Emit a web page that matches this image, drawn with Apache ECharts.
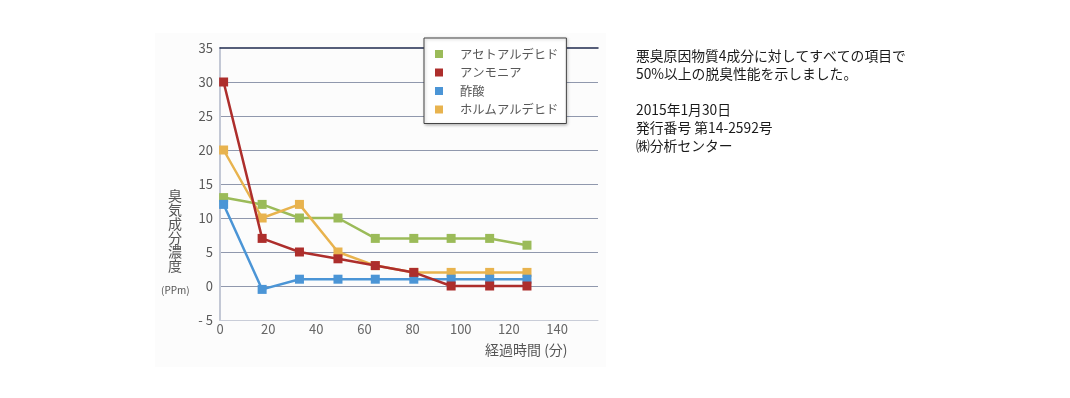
<!DOCTYPE html>
<html>
<head>
<meta charset="utf-8">
<script src="https://cdn.jsdelivr.net/npm/echarts@6/dist/echarts.min.js"></script>
<style>
  html, body { margin: 0; padding: 0; background: #ffffff; }
  #main { width: 1070px; height: 398px; }
</style>
</head>
<body>
<div id="main"></div>
<script>
// 経過時間（分）
var times = [1.5, 17.5, 33, 49, 64.5, 80.5, 96, 112, 127.5];
// 臭気成分濃度 (PPm)
var seriesNames = ['アセトアルデヒド', 'アンモニア', '酢酸', 'ホルムアルデヒド'];
var acetaldehyde = [13, 12, 10, 10, 7, 7, 7, 7, 6];
var ammonia = [30, 7, 5, 4, 3, 2, 0, 0, 0];
var aceticAcid = [12, -0.5, 1, 1, 1, 1, 1, 1, 1];
var formaldehyde = [20, 10, 12, 5, 3, 2, 2, 2, 2];
var colors = ['#9bbb59', '#ad2e2c', '#4b95d6', '#e8b34e'];
var noteLines = [
  '悪臭原因物質4成分に対してすべての項目で',
  '50%以上の脱臭性能を示しました。',
  '',
  '2015年1月30日',
  '発行番号 第14-2592号',
  '㈱分析センター'
];

function pairs(vals) {
  var out = [];
  for (var i = 0; i < vals.length; i++) {
    out.push([times[i], vals[i]]);
  }
  return out;
}

var font = '"Noto Sans CJK JP", "Noto Sans", sans-serif';
var myChart = echarts.init(document.getElementById('main'));

function line(idx, vals, z) {
  return {
    name: seriesNames[idx],
    type: 'line',
    data: pairs(vals),
    symbol: 'rect',
    symbolSize: 9,
    z: z,
    itemStyle: { color: colors[idx] },
    lineStyle: { color: colors[idx], width: 2.5 }
  };
}

var option = {
  animation: false,
  backgroundColor: '#ffffff',
  textStyle: { fontFamily: font },
  graphic: [
    {
      type: 'rect', left: 155, top: 33, z: -10,
      shape: { width: 451, height: 334 },
      style: { fill: '#fcfcfc' }
    },
    {
      type: 'text', left: 168, top: 189,
      style: {
        text: '臭\n気\n成\n分\n濃\n度',
        font: '14px ' + font, fill: '#555555', lineHeight: 14
      }
    },
    {
      type: 'text', left: 161, top: 285,
      style: { text: '(PPm)', font: '10px ' + font, fill: '#555555' }
    },
    {
      type: 'text', left: 485, top: 343,
      style: { text: '経過時間 (分)', font: '14px ' + font, fill: '#555555' }
    },
    {
      type: 'text', left: 636, top: 47,
      style: {
        text: noteLines.join('\n'),
        font: '13.8px ' + font, fill: '#1a1a1a', lineHeight: 18
      }
    }
  ],
  legend: {
    data: seriesNames,
    orient: 'vertical',
    left: 424,
    top: 38,
    padding: [9, 8, 7, 11],
    itemGap: 4.5,
    itemWidth: 8,
    itemHeight: 8,
    icon: 'rect',
    backgroundColor: '#ffffff',
    borderColor: '#444444',
    borderWidth: 1,
    shadowBlur: 3,
    shadowColor: 'rgba(0,0,0,0.25)',
    shadowOffsetX: 1,
    shadowOffsetY: 1,
    textStyle: {
      color: '#595959', fontSize: 12.3, lineHeight: 14,
      padding: [0, 0, 0, 12], fontFamily: font
    }
  },
  grid: { left: 220, right: 472, top: 48, bottom: 78 },
  xAxis: [
    {
      type: 'value',
      min: 0,
      max: 157,
      interval: 20,
      axisLine: { show: true, onZero: false, lineStyle: { color: '#c9cdd8', width: 1 } },
      axisTick: { show: false },
      splitLine: { show: false },
      axisLabel: {
        color: '#666666', fontSize: 13, margin: 3, fontFamily: font,
        showMaxLabel: false
      }
    },
    {
      type: 'value',
      position: 'top',
      min: 0,
      max: 157,
      axisLine: { show: true, onZero: false, lineStyle: { color: '#1f2a4d', width: 1.5 } },
      axisTick: { show: false },
      axisLabel: { show: false },
      splitLine: { show: false }
    }
  ],
  yAxis: {
    type: 'value',
    min: -5,
    max: 35,
    interval: 5,
    axisLine: { show: true, lineStyle: { color: '#c3c8d5', width: 2 } },
    axisTick: { show: false },
    axisLabel: {
      color: '#595959', fontSize: 13, margin: 7, fontFamily: font,
      formatter: function (v) { return v < 0 ? '- ' + Math.abs(v) : String(v); }
    },
    splitLine: {
      show: true,
      showMinLine: false,
      showMaxLine: false,
      lineStyle: { color: '#9098ad', width: 1 }
    }
  },
  series: [
    line(0, acetaldehyde, 2),
    line(3, formaldehyde, 3),
    line(2, aceticAcid, 4),
    line(1, ammonia, 5)
  ]
};

option && myChart.setOption(option);
</script>
</body>
</html>
